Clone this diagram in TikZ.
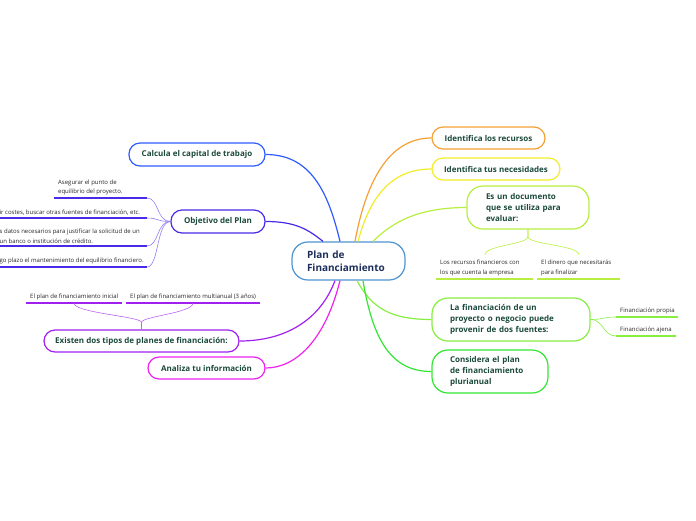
\documentclass[tikz,border=0pt]{standalone}
\usepackage{fontspec}
\setmainfont{Open Sans}
\definecolor{txtgreen}{HTML}{1B4A3C}
\definecolor{navy}{HTML}{1D2E5C}
\definecolor{cblue}{HTML}{2F5CFF}
\definecolor{cindigo}{HTML}{4A2AE8}
\definecolor{cpurple}{HTML}{A020F0}
\definecolor{cmagenta}{HTML}{EE22EE}
\definecolor{corange}{HTML}{F5A035}
\definecolor{cyellow}{HTML}{F2EC2A}
\definecolor{cyg}{HTML}{B8EE40}
\definecolor{cgreen}{HTML}{88EE40}
\definecolor{cgreenb}{HTML}{33E633}
\definecolor{ccenter}{HTML}{4D94D0}
\begin{document}
\begin{tikzpicture}[x=1pt,y=-1pt,
  box/.style={rounded corners=11pt, line width=1.2pt, fill=white, text=txtgreen,
    font=\bfseries\fontsize{8}{11.3}\selectfont, inner sep=0pt, minimum height=23pt},
  bigbox/.style={box, rounded corners=16pt, minimum height=43pt, align=left},
  branch/.style={line width=1.2pt},
  thin/.style={line width=0.6pt},
  uline/.style={line width=1.4pt},
  small/.style={font=\fontsize{6}{9.5}\selectfont, text=black!85, inner sep=0pt, align=left}
]
\useasboundingbox (0,0) rectangle (696,520);

% central node
\node[draw=ccenter, line width=1.2pt, rounded corners=16pt, fill=white, minimum width=113pt,
  minimum height=38pt, text width=83pt, align=left, inner sep=0pt, text=navy,
  font=\bfseries\fontsize{10}{12.5}\selectfont] (center) at (348.5,261) {Plan de\\Financiamiento};

% left side
\node[box, draw=cblue, minimum width=136pt] (calc) at (197,154.5) {Calcula el capital de trabajo};
\node[box, draw=cindigo, minimum width=94pt] (obj) at (218,221.5) {Objetivo del Plan};
\node[box, draw=cpurple, minimum width=195pt, minimum height=22pt] (exist) at (141.5,341) {Existen dos tipos de planes de financiación:};
\node[box, draw=cmagenta, minimum width=117pt, minimum height=22pt] (anal) at (206.5,368) {Analiza tu información};

% right side
\node[box, draw=corange, minimum width=113pt, minimum height=22pt] (recur) at (488.5,138) {Identifica los recursos};
\node[box, draw=cyellow, minimum width=128pt, minimum height=22pt] (neces) at (496,169) {Identifica tus necesidades};
\node[bigbox, draw=cyg, minimum width=122pt, text width=84pt] (doc) at (528,207.5) {Es un documento\\que se utiliza para\\evaluar:};
\node[bigbox, draw=cgreen, minimum width=158pt, text width=122pt] (fin) at (511,319.5) {La financiación de un\\proyecto o negocio puede\\provenir de dos fuentes:};
\node[bigbox, draw=cgreenb, minimum width=116pt, text width=80pt] (cons) at (490,371.5) {Considera el plan\\de financiamiento\\plurianual};

% main branches
\draw[branch, cblue] ([xshift=-8.5pt]center.north) .. controls +(-12,-50) and +(45,0) .. (calc.east);
\draw[branch, cindigo] ([xshift=-25.5pt]center.north) .. controls +(-15,-12) and +(30,0) .. (obj.east);
\draw[branch, cpurple] ([xshift=-13.5pt]center.south) .. controls +(-15,40) and +(45,0) .. (exist.east);
\draw[branch, cmagenta] ([xshift=-8.5pt]center.south) .. controls +(-15,60) and +(30,0) .. (anal.east);
\draw[branch, corange] ([xshift=6.5pt]center.north) .. controls +(12,-65) and +(-40,0) .. (recur.west);
\draw[branch, cyellow] ([xshift=9.5pt]center.north) .. controls +(12,-45) and +(-40,0) .. (neces.west);
\draw[branch, cyg] ([xshift=24.5pt]center.north) .. controls +(18,-18) and +(-50,0) .. (doc.west);
\draw[branch, cgreen] ([xshift=8.5pt]center.south) .. controls +(15,28) and +(-40,0) .. (fin.west);
\draw[branch, cgreenb] ([xshift=14.5pt]center.south) .. controls +(10,60) and +(-40,0) .. (cons.west);

% Objetivo sub-items
\coordinate (o1) at (147,198);
\coordinate (o2) at (147,218);
\coordinate (o3) at (147,246);
\coordinate (o4) at (147,267);
\draw[uline, cindigo] (54,198) -- (o1);
\draw[uline, cindigo] (-2,218) -- (o2);
\draw[uline, cindigo] (-2,246) -- (o3);
\draw[uline, cindigo] (-2,267) -- (o4);
\node[small, anchor=south west] (ot1) at (58,195.5) {Asegurar el punto de\\equilibrio del proyecto.};
\node[small, anchor=south west] (ot2) at (-0.5,215.5) {ir costes, buscar otras fuentes de financiación, etc.};
\node[small, anchor=south west] (ot3) at (-0.5,243.5) {s datos necesarios para justificar la solicitud de un\\un banco o institución de crédito.};
\node[small, anchor=south west] (ot4) at (-0.5,264.5) {go plazo el mantenimiento del equilibrio financiero.};
\foreach \p in {o1,o2,o3,o4}
  \draw[thin, cindigo!60] (obj.west) .. controls +(-14,0) and +(12,0) .. (\p);

% Existen sub-items
\coordinate (e1) at (74,303);
\coordinate (e2) at (193,303);
\draw[uline, cpurple] (26,303) -- (122,303);
\draw[uline, cpurple] (126,303) -- (260,303);
\node[small, anchor=south west] (et1) at (30,300.5) {El plan de financiamiento inicial};
\node[small, anchor=south west] (et2) at (130,300.5) {El plan de financiamiento multianual (3 años)};
\draw[thin, cpurple!70] (exist.north) -- +(0,-7) .. controls +(0,-6) and +(0,10) .. (e1);
\draw[thin, cpurple!70] (exist.north) -- +(0,-7) .. controls +(0,-6) and +(0,10) .. (e2);

% Documento sub-items
\coordinate (d1) at (485,255);
\coordinate (d2) at (579,255);
\draw[uline, cyg] (436,279) -- (533,279);
\draw[uline, cyg] (537,279) -- (620,279);
\node[small, anchor=south west] (dt1) at (440,276) {Los recursos financieros con\\los que cuenta la empresa};
\node[small, anchor=south west] (dt2) at (541,276) {El dinero que necesitarás\\para finalizar};
\draw[thin, cyg] (doc.south) -- +(0,7) .. controls +(0,8) and +(0,-10) .. (d1);
\draw[thin, cyg] (doc.south) -- +(0,7) .. controls +(0,8) and +(0,-10) .. (d2);

% Financiacion sub-items
\coordinate (f1) at (616,317);
\coordinate (f2) at (616,336);
\draw[uline, cgreen] (f1) -- (678,317);
\draw[uline, cgreen] (f2) -- (676,336);
\node[small, anchor=south west] (ft1) at (620,314) {Financiación propia};
\node[small, anchor=south west] (ft2) at (620,333) {Financiación ajena};
\draw[thin, cgreen] (fin.east) .. controls +(13,0) and +(-13,0) .. (f1);
\draw[thin, cgreen] (fin.east) .. controls +(13,0) and +(-13,0) .. (f2);
\end{tikzpicture}
\end{document}
